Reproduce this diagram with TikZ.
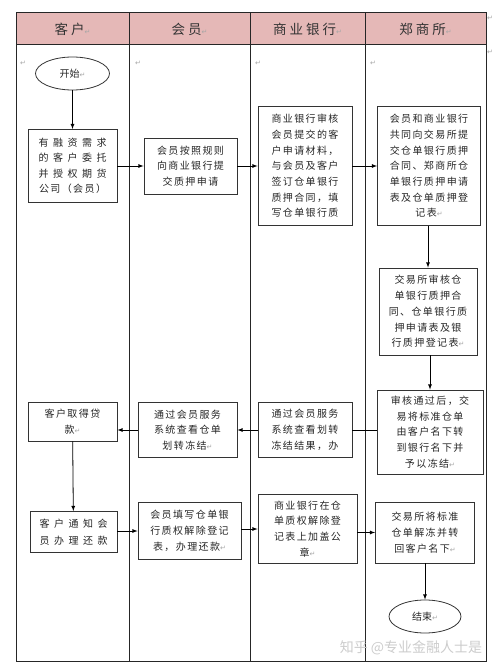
\documentclass[tikz,border=0pt]{standalone}
\usepackage{fontspec}
\usepackage{tikz}
\usetikzlibrary{shapes.geometric}
\setmainfont{Noto Sans CJK SC}
\newfontfamily\cjk[LetterSpace=14]{Noto Sans CJK SC}
\newfontfamily\cjkw[LetterSpace=45]{Noto Sans CJK SC}
\newfontfamily\cjkh[LetterSpace=22]{Noto Sans CJK SC}
\newfontfamily\symf{DejaVu Sans}
\newcommand\pmark{{\color{gray!70}\symf\fontsize{7}{7}\selectfont ↵}}
\definecolor{headpink}{RGB}{229,184,183}

\begin{document}
\begin{tikzpicture}[x=1pt,y=-1pt,>=latex,line width=0.8pt,
  box/.style={draw=black!80,rectangle,align=center,inner sep=1pt,text=black!85,
    font=\cjk\fontsize{10}{15.7}\selectfont},
  term/.style={draw=black!80,ellipse,inner sep=0pt,text=black!85,
    font=\fontsize{10}{12}\selectfont},
  head/.style={text=black!80,font=\cjkh\fontsize{13.5}{15}\selectfont},
  mk/.style={inner sep=0pt}]

\useasboundingbox (0,0) rectangle (500,669);

% table
\fill[headpink] (16,13) rectangle (486,45);
\draw[black!85,line width=1pt] (16,13) rectangle (486,661);
\draw[black!85,line width=1pt] (16,45) -- (486,45);
\foreach \x in {129,250,365}
  \draw[black!85,line width=1pt] (\x,13) -- (\x,661);

\node[head] (h1) at (72.5,29) {客户\pmark};
\node[head] (h2) at (189.5,29) {会员\pmark};
\node[head] (h3) at (307.5,29) {商业银行\pmark};
\node[head] (h4) at (425.5,29) {郑商所\pmark};

\node[mk] (m1) at (23,63) {\pmark};
\node[mk] (m2) at (138,63) {\pmark};
\node[mk] (m3) at (258,63) {\pmark};
\node[mk] (m4) at (373,63) {\pmark};
\node[mk] (m5) at (490,18) {\pmark};
\node[mk] (m6) at (490,52) {\pmark};

% first row
\node[term,minimum width=74pt,minimum height=33pt] (0) at (72.5,73.5) {开始\pmark};
\node[box,minimum width=89pt,minimum height=73pt,font=\cjkw\fontsize{10}{15.5}\selectfont]
  (1) at (72.5,166) {有融资需求\\的客户委托\\并授权期货\\{\cjk 公司（会员）}};
\node[box,minimum width=93pt,minimum height=56pt] (2) at (190.5,166)
  {会员按照规则\\向商业银行提\\交质押申请};
\node[box,minimum width=94pt,minimum height=119pt] (3) at (305,166)
  {商业银行审核\\会员提交的客\\户申请材料，\\与会员及客户\\签订仓单银行\\质押合同，填\\写仓单银行质};
\node[box,minimum width=103pt,minimum height=119pt] (4) at (429,166)
  {会员和商业银行\\共同向交易所提\\交仓单银行质押\\合同、郑商所仓\\单银行质押申请\\表及仓单质押登\\记表\pmark};

% second row
\node[box,minimum width=98pt,minimum height=87pt] (5) at (428,311.5)
  {交易所审核仓\\单银行质押合\\同、仓单银行质\\押申请表及银\\行质押登记表\pmark};
\node[box,minimum width=106pt,minimum height=84pt] (6) at (430,432)
  {审核通过后，交\\易将标准仓单\\由客户名下转\\到银行名下并\\予以冻结\pmark};
\node[box,minimum width=94pt,minimum height=55pt] (7) at (305,430)
  {通过会员服务\\系统查看划转\\冻结结果，办};
\node[box,minimum width=99pt,minimum height=55pt] (8) at (187.5,430)
  {通过会员服务\\系统查看仓单\\划转冻结\pmark};
\node[box,minimum width=89pt,minimum height=39pt] (9) at (72.5,421.5)
  {客户取得贷\\款\pmark};

% third row
\node[box,minimum width=87pt,minimum height=41pt,font=\cjkw\fontsize{10}{17}\selectfont]
  (10) at (73.5,532) {客户通知会\\员办理还款};
\node[box,minimum width=103pt,minimum height=57pt] (11) at (189.5,531)
  {会员填写仓单银\\行质权解除登记\\表，办理还款\pmark};
\node[box,minimum width=99pt,minimum height=69pt] (12) at (307.5,529)
  {商业银行在仓\\单质权解除登\\记表上加盖公\\章\pmark};
\node[box,minimum width=99pt,minimum height=61pt] (13) at (425,532.5)
  {交易所将标准\\仓单解冻并转\\回客户名下\pmark};
\node[term,minimum width=72pt,minimum height=33pt] (14) at (425,616.5) {结束\pmark};

\node[text=gray!40,font=\fontsize{14}{16}\selectfont] (wm) at (411,648) {知乎 @专业金融人士是};

% connectors
\draw[->] (0) -- (1);
\draw[->] (1.east |- 2) -- (2.west);
\draw[->] (2) -- (3);
\draw[->] (3) -- (4);
\draw[->] (4.south -| 5) -- (5);
\draw[->] (5.south -| 6) -- (6);
\draw (6.west |- 7) -- (7.east);
\draw[->] (7) -- (8);
\draw[->] (8.west) -- (8.west -| 9.east);
\draw[->] (9) -- (10);
\draw[->] (10.east |- 11) -- (11.west);
\draw[->] (11.east |- 12) -- (12.west);
\draw[->] (12.east |- 13) -- (13.west);
\draw[->] (13) -- (14);

\end{tikzpicture}
\end{document}
